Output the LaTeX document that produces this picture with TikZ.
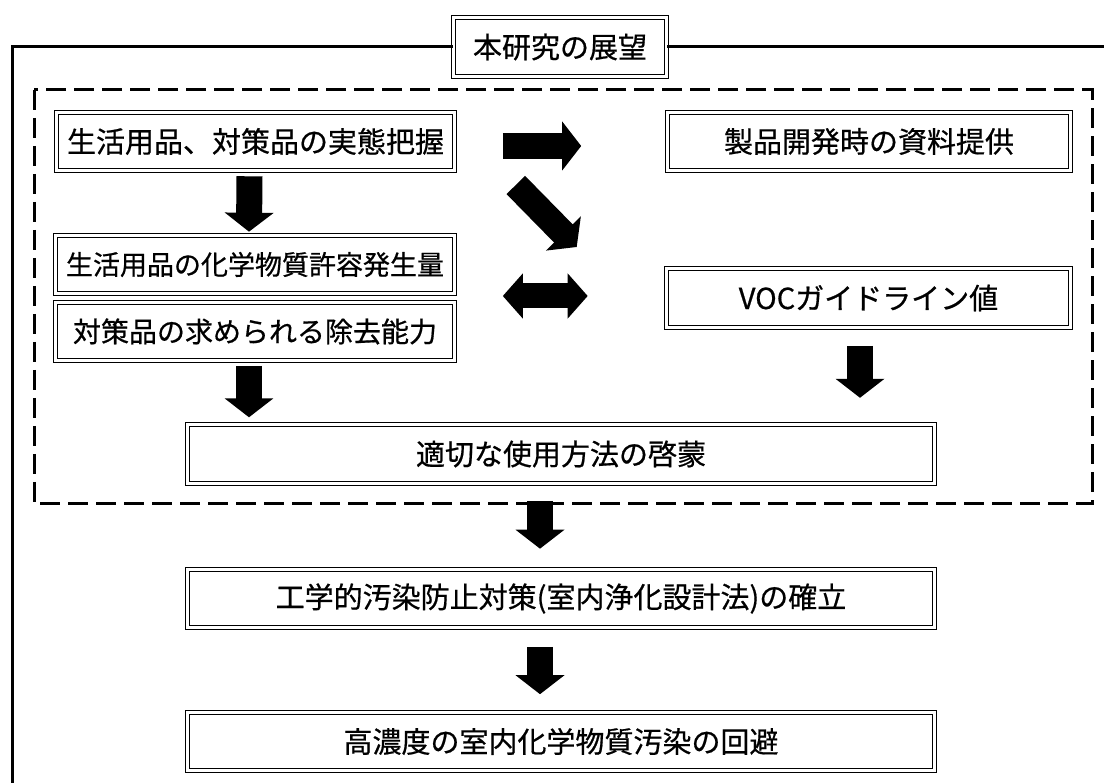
\documentclass[tikz,border=0pt]{standalone}
\usepackage{fontspec}
\newfontfamily\jp{Noto Sans CJK JP}[FakeBold=0.6]
\usetikzlibrary{arrows.meta,calc}
\tikzset{
  dbox/.style={draw, line width=1.6pt, double=white, double distance=2.2pt, inner sep=0pt},
  fat/.style={line width=26pt, -{Triangle[length=19pt,width=48pt]}},
  fatboth/.style={line width=25pt, {Triangle[length=20pt,width=44pt]}-{Triangle[length=20pt,width=44pt]}},
  frame/.style={line width=3pt},
  dashframe/.style={line width=3pt, dash pattern=on 20pt off 8pt},
}
\begin{document}
\begin{tikzpicture}[x=1pt,y=-1pt]
        \useasboundingbox (0,0) rectangle (1104,783);
        % title and outer frame
        \node[dbox, minimum width=213pt, minimum height=59pt, font=\jp\fontsize{29}{29}\selectfont] (tt) at (560,47) {本研究の展望};
        \draw[frame] (tt.west) -- (12,47) -- (12,783);
        \draw[frame] (tt.east) -- (1104,47);
        \draw[dashframe] (34,90) rectangle (1092,504);
        \foreach \n/\x/\y/\w/\h/\s/\t in {
        b1/255.5/141.5/398/58/29/生活用品、対策品の実態把握,
        b2/869/141.5/403/58/29/製品開発時の資料提供,
        b3/255/264.5/399/58/27/生活用品の化学物質許容発生量,
        b4/255/331.5/399/58/28/対策品の求められる除去能力,
        b5/868.5/298/404/59/29/VOCガイドライン値,
        b6/561/454/747/59/29/適切な使用方法の啓蒙,
        b7/561/598.5/747/58/29/工学的汚染防止対策(室内浄化設計法)の確立,
        b8/561/741.5/747/58/29/高濃度の室内化学物質汚染の回避}{
            \node[dbox, minimum width=\w pt, minimum height=\h pt, font=\jp\fontsize{\s}{\s}\selectfont] (\n) at (\x,\y) {\t};
        }
        % block arrows
        \draw[fat] ($(b1.south)+(-6,5)$) -- ($(b3.north)+(-6,-3)$);
        \draw[fat] ($(b1.east)+(47.5,4.5)$) -- ($(b2.west)+(-85.5,4.5)$);
        \draw[fat] ($(b1.east)+(60.5,43.5)$) -- ($(b5.west)+(-89,-51)$);
        \draw[fatboth] ($(b3.east)+(47.5,31.5)$) -- ($(b5.west)+(-78,-2)$);
        \draw[fat] ($(b4.south)+(-6,4.5)$) -- ($(b4.south)+(-6,56)$);
        \draw[fat] ($(b5.south)+(-8.5,17.5)$) -- ($(b5.south)+(-8.5,69.5)$);
        \draw[fat] ($(b6.south)+(-21,16.5)$) -- ($(b7.north)+(-21,-20)$);
        \draw[fat] ($(b7.south)+(-21,18.5)$) -- ($(b8.north)+(-21,-17.5)$);
    \end{tikzpicture}
\end{document}
